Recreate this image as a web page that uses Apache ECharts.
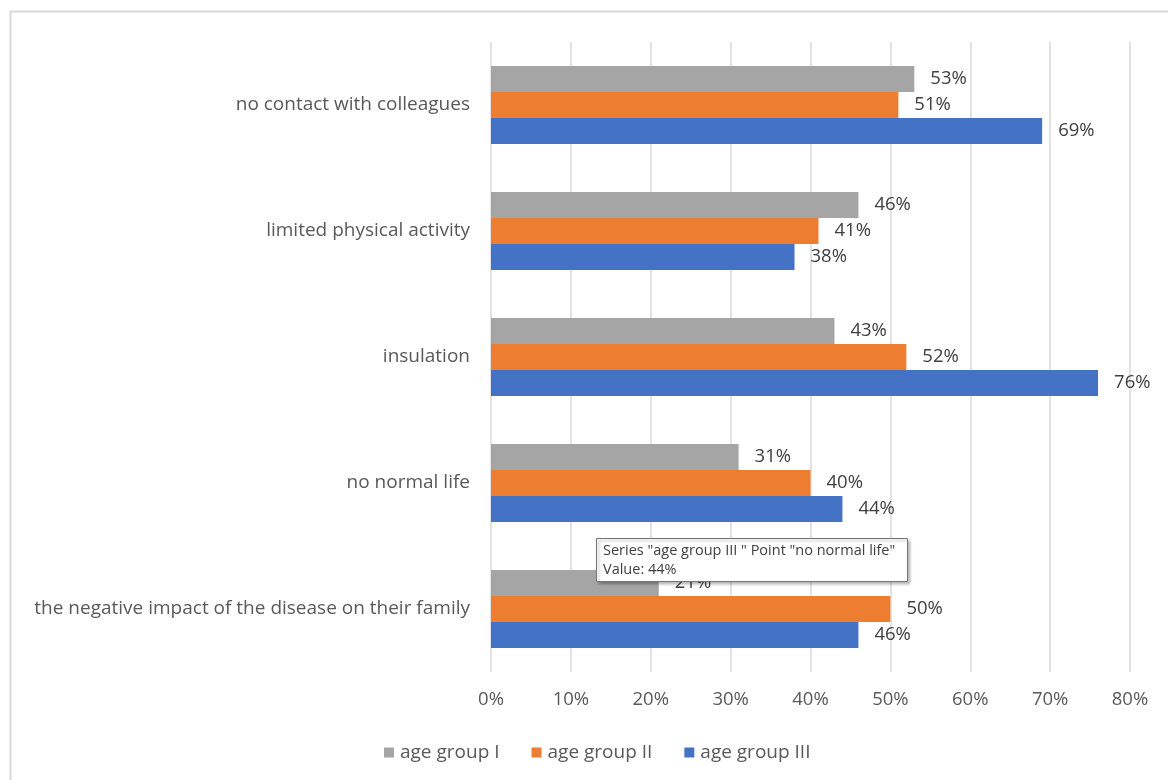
<!DOCTYPE html>
<html>
<head>
<meta charset="utf-8">
<script src="https://cdn.jsdelivr.net/npm/echarts@6/dist/echarts.min.js"></script>
<style>
html,body{margin:0;padding:0;background:#fff;}
#chart{width:1168px;height:780px;}
</style>
</head>
<body>
<div id="chart"></div>
<script>
const categories = [
  "no contact with colleagues",
  "limited physical activity",
  "insulation",
  "no normal life",
  "the negative impact of the disease on their family"
];
const seriesNames = ["age group I", "age group II", "age group III"];
const groupI = [53, 46, 43, 31, 21];
const groupII = [51, 41, 52, 40, 50];
const groupIII = [69, 38, 76, 44, 46];
const colors = ["#A5A5A5", "#ED7D31", "#4472C4"];
const xTicks = [0, 10, 20, 30, 40, 50, 60, 70, 80];
const tooltipLines = ['Series "age group III " Point "no normal life"', 'Value: 44%'];

const FONT = '"Open Sans", "Noto Sans", sans-serif';
const chart = echarts.init(document.getElementById('chart'), null, {renderer: 'canvas'});

const data = [groupI, groupII, groupIII];
const series = data.map((vals, i) => ({
  name: seriesNames[i],
  type: 'bar',
  data: vals,
  barWidth: 26,
  barGap: '0%',
  itemStyle: {color: colors[i]},
  label: {
    show: true,
    position: 'right',
    distance: 16,
    formatter: p => p.value + '%',
    color: '#404040',
    fontSize: 18.5,
    fontFamily: FONT
  }
}));

chart.setOption({
  animation: false,
  backgroundColor: '#fff',
  grid: {left: 491, right: 38, top: 42, bottom: 108, containLabel: false},
  xAxis: {
    type: 'value',
    min: xTicks[0],
    max: xTicks[xTicks.length - 1],
    interval: 10,
    axisLine: {show: false},
    axisTick: {show: false},
    splitLine: {show: true, lineStyle: {color: '#D9D9D9', width: 1.5}},
    axisLabel: {
      formatter: v => v + '%',
      color: '#595959',
      fontSize: 18.5,
      fontFamily: FONT,
      margin: 18
    }
  },
  yAxis: {
    type: 'category',
    inverse: true,
    data: categories,
    axisLine: {show: false},
    axisTick: {show: false},
    axisLabel: {
      color: '#595959',
      fontSize: 19,
      fontFamily: FONT,
      margin: 21
    }
  },
  legend: {
    top: 738,
    left: 379,
    itemWidth: 10,
    itemHeight: 10,
    itemGap: 32,
    icon: 'rect',
    data: seriesNames,
    textStyle: {color: '#595959', fontSize: 19, fontFamily: FONT, padding: [0, 0, 0, 1]}
  },
  graphic: [
    {
      type: 'rect',
      shape: {x: 10.5, y: 11.5, width: 1200, height: 800},
      style: {fill: 'none', stroke: '#D9D9D9', lineWidth: 2},
      silent: true,
      z: 0
    },
    {
      type: 'rect',
      zlevel: 5,
      z: 100,
      shape: {x: 596.5, y: 538.5, width: 311, height: 43},
      style: {fill: '#ffffff', stroke: '#767676', lineWidth: 1,
               shadowBlur: 3, shadowOffsetX: 2, shadowOffsetY: 2, shadowColor: 'rgba(0,0,0,0.3)'}
    },
    {
      type: 'text',
      zlevel: 5,
      z: 101,
      x: 603, y: 542,
      style: {text: tooltipLines.join('\n'), fill: '#404040', fontSize: 14.5, fontFamily: FONT, lineHeight: 18.5}
    }
  ],
  series: series
});
</script>
</body>
</html>
